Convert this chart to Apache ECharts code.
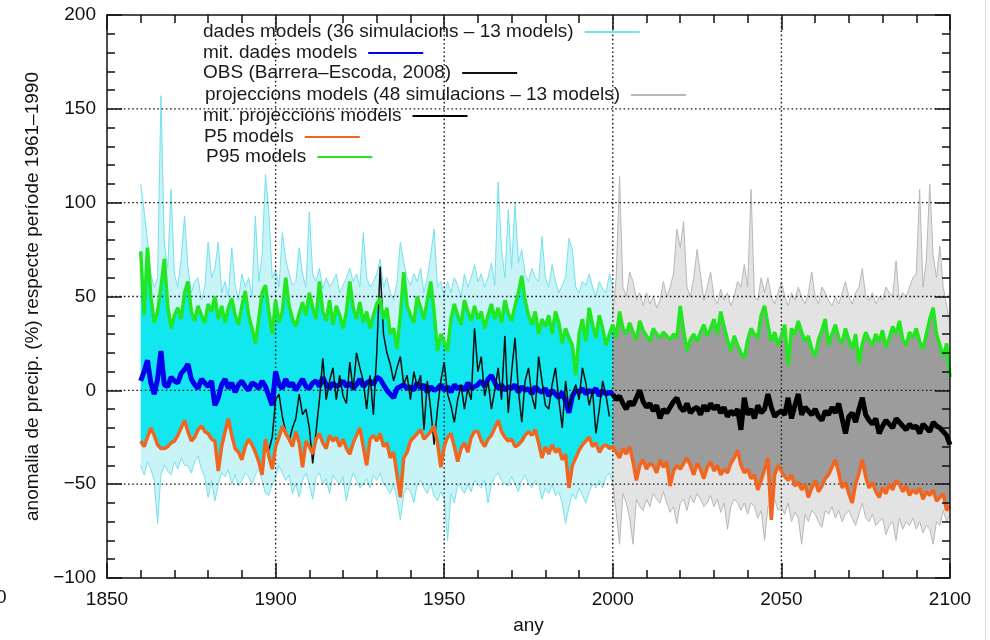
<!DOCTYPE html>
<html><head><meta charset="utf-8">
<script src="https://cdn.jsdelivr.net/npm/echarts@6/dist/echarts.min.js"></script>
<style>html,body{margin:0;padding:0;background:#fff}#c{width:990px;height:640px}</style>
</head><body><div id="c"></div>
<script>
// ---------- DATA ----------
const histStartYear = 1860;   // historical simulations 1860-2000
const projStartYear = 2000;   // projections 2000-2100
const obsStartYear  = 1898;   // observations 1898-1999
const xTickLabels = [1850, 1900, 1950, 2000, 2050, 2100];
const yTickLabels = [-100, -50, 0, 50, 100, 150, 200];

const legendNames = [
  'dades models (36 simulacions – 13 models)',
  'mit. dades models',
  'OBS (Barrera–Escoda, 2008)',
  'projeccions models (48 simulacions – 13 models)',
  'mit. projeccions models',
  'P5 models',
  'P95 models'
];

// upper / lower envelope of the 36 historical simulations
const histMax = [110,96,80,62,55,60,157,78,65,107, 62,55,70,93,66,52,58,60,48,55,
  79,60,65,79,52,58,50,76,56,48, 62,55,60,50,93,58,72,115,95,60,
  64,55,84,70,62,56,58,76,62,55, 95,62,58,65,54,60,55,58,62,52,
  56,60,65,58,62,55,84,60,55,58, 62,70,55,60,52,48,58,79,68,60,
  56,62,58,65,52,60,72,86,55,58, 50,58,52,60,56,50,62,55,60,67,
  58,62,55,60,68,56,111,75,60,96, 65,100,68,75,62,58,65,60,58,82,
  60,55,67,58,52,56,60,81,75,55, 52,58,56,62,55,50,58,54,52,62, 55];
const histMin = [-40,-45,-38,-42,-48,-71,-45,-40,-43,-45, -38,-42,-36,-40,-40,-44,-38,-35,-42,-46,
  -57,-48,-59,-50,-44,-46,-42,-50,-45,-51, -48,-44,-46,-50,-45,-42,-48,-55,-56,-50,
  -46,-40,-44,-48,-45,-55,-50,-57,-48,-44, -50,-58,-46,-44,-50,-47,-55,-45,-48,-50,
  -46,-59,-50,-44,-48,-52,-50,-47,-52,-45, -48,-44,-50,-52,-55,-50,-58,-69,-55,-52,
  -54,-60,-50,-48,-52,-55,-50,-56,-59,-54, -58,-80,-55,-60,-50,-52,-55,-50,-54,-48,
  -50,-52,-48,-60,-50,-46,-44,-48,-50,-51, -46,-50,-54,-48,-45,-50,-52,-48,-50,-58,
  -52,-55,-50,-56,-54,-60,-71,-62,-55,-58, -52,-56,-60,-54,-50,-52,-48,-52,-46,-44, -50];
// ensemble mean of historical simulations
const histMean = [5,10,16,4,-2,6,21,3,2,7, 5,4,9,11,14,6,3,1,6,4,
  2,5,-8,-4,3,6,1,4,-1,3, 5,2,0,4,3,1,5,2,-3,-8,
  10,3,1,6,2,4,0,3,6,2, 1,4,5,2,7,3,1,4,2,3,
  5,2,4,1,3,6,2,4,5,3, 7,6,3,0,-2,-4,1,2,3,1,
  2,0,4,1,3,-1,2,0,1,3, 0,2,-1,3,1,2,0,4,1,2,
  3,5,2,6,8,4,1,3,0,2, 1,3,-1,2,0,1,-2,2,0,-1,
  1,-3,0,-2,-4,-1,-6,-12,-3,0, -1,1,-2,0,-1,1,-3,0,-2,-1, -2];
// P5 / P95 of the historical simulations
const histP5 = [-27,-30,-25,-20,-24,-29,-31,-31,-30,-28, -27,-24,-20,-16,-22,-27,-25,-21,-19,-22,
  -23,-26,-27,-43,-30,-22,-15,-24,-31,-33, -37,-30,-26,-29,-33,-38,-45,-26,-35,-42,
  -30,-25,-19,-23,-26,-30,-22,-28,-41,-27, -30,-34,-26,-23,-28,-31,-24,-27,-25,-30,
  -26,-31,-34,-28,-24,-20,-30,-40,-26,-24, -27,-23,-30,-28,-36,-33,-45,-57,-36,-33,
  -27,-25,-23,-21,-26,-24,-22,-19,-28,-41, -30,-25,-23,-30,-38,-31,-28,-33,-25,-22,
  -22,-27,-30,-26,-24,-20,-16,-22,-25,-27, -26,-30,-29,-27,-24,-22,-24,-21,-28,-36,
  -30,-34,-29,-33,-31,-37,-34,-52,-40,-36, -32,-29,-27,-25,-30,-28,-33,-30,-29,-31, -30];
const histP95 = [74,40,76,50,36,42,55,70,45,33, 40,44,38,52,58,42,37,45,40,36,
  46,42,50,38,45,36,44,49,40,35, 45,53,40,33,25,38,52,56,42,30,
  48,36,42,60,45,38,34,41,47,40, 52,44,38,58,42,37,48,35,45,40,
  33,42,58,44,38,47,36,42,33,40, 46,49,38,44,30,33,22,40,63,45,
  40,36,50,44,38,48,58,42,21,30, 26,21,38,46,40,35,48,42,37,45,
  38,42,33,40,46,38,44,36,48,41, 37,45,52,61,48,40,35,42,30,38,
  34,40,30,42,36,25,33,28,24,8, 30,38,26,44,35,28,40,33,24,30, 35];
// observations (Barrera-Escoda, 2008)
const obsValues = [-32,-25,
  -5,-2,-14,-22,-27,-20,-15,-2,-13,-10, -20,-39,-22,-5,17,-5,5,12,-5,8,
  -3,-7,15,0,20,12,5,-10,8,-13, 20,66,30,20,14,5,12,18,3,8,
  -5,10,2,8,-21,5,-10,-29,-10,5, 15,-2,-8,-17,-5,3,-10,1,-5,33,
  10,18,-3,5,-10,0,12,-5,29,-12, 10,28,0,-17,5,12,-3,-10,18,5,
  -8,-10,3,12,-5,-20,5,-10,-2,3, -5,12,4,-8,0,-23,-10,5,-3,-14];
// envelope of the 48 projections
const projMax = [40,60,114,55,50,63,58,48,52,45, 52,46,50,44,48,58,50,55,62,86,
  76,90,55,50,60,75,62,48,55,63, 50,46,54,48,52,45,50,58,55,67,
  55,107,50,48,60,52,60,50,46,52, 58,50,45,52,48,55,50,46,52,63,
  50,46,55,52,48,45,50,46,52,58, 50,46,52,55,65,50,48,52,46,50,
  48,55,52,50,69,48,52,50,55,60, 62,107,55,70,110,72,60,77,55,45, 35];
const projMin = [-50,-65,-82,-55,-60,-68,-82,-58,-62,-64, -58,-62,-55,-58,-60,-54,-60,-65,-62,-71,
  -60,-58,-64,-56,-60,-55,-58,-62,-60,-56, -62,-58,-65,-60,-74,-62,-58,-60,-64,-60,
  -66,-60,-62,-68,-64,-80,-62,-60,-58,-64, -62,-66,-60,-70,-65,-68,-82,-66,-70,-64,
  -66,-70,-73,-64,-66,-62,-68,-64,-70,-66, -64,-68,-72,-66,-60,-68,-70,-66,-72,-70,
  -68,-77,-72,-70,-80,-68,-74,-70,-72,-68, -74,-70,-76,-72,-74,-82,-70,-72,-64,-70, -66];
const projMean = [-2,-5,-3,-7,-10,-6,-8,-4,0,-6, -9,-7,-11,-8,-15,-10,-12,-9,-6,-4,
  -9,-11,-7,-12,-10,-9,-13,-8,-11,-7, -10,-8,-12,-9,-14,-11,-13,-10,-21,-4,
  -13,-10,-15,-8,-12,-10,-2,-9,-14,-12, -11,-13,-4,-15,-8,-2,-13,-9,-11,-13,
  -10,-14,-16,-11,-13,-9,-12,-7,-15,-23, -14,-12,-17,-10,-4,-13,-16,-18,-15,-23,
  -19,-16,-18,-20,-15,-17,-19,-21,-18,-20, -19,-23,-18,-20,-22,-17,-19,-20,-22,-24, -29];
const projP5 = [-30,-33,-36,-31,-34,-30,-38,-48,-40,-37, -42,-39,-40,-44,-37,-41,-38,-51,-43,-40,
  -42,-39,-36,-40,-45,-39,-42,-47,-41,-38, -43,-40,-45,-42,-44,-39,-36,-32,-40,-44,
  -42,-47,-45,-53,-48,-42,-36,-69,-45,-40, -43,-46,-48,-45,-51,-49,-53,-50,-57,-52,
  -48,-54,-51,-47,-45,-41,-37,-44,-52,-49, -55,-60,-50,-44,-37,-46,-52,-49,-54,-57,
  -52,-55,-50,-53,-48,-50,-54,-51,-56,-53, -55,-52,-58,-54,-56,-53,-59,-57,-55,-64, -62];
const projP95 = [35,28,42,33,30,36,31,27,37,32, 29,26,33,30,28,31,29,27,30,28,
  45,32,21,27,30,26,31,35,29,33, 38,30,42,34,27,21,29,24,20,17,
  27,33,30,28,40,45,35,26,31,24, 29,35,13,33,30,37,31,26,29,22,
  18,27,32,38,24,30,35,28,25,33, 27,22,30,14,25,31,27,24,30,26,
  32,23,28,34,30,37,27,24,31,28, 33,26,22,30,38,44,30,24,18,25, 7];

// ---------- BUILD ----------
const pairs = (start, arr) => arr.map((v, i) => [start + i, v]);
const FONT = 'Liberation Sans, Arial, Helvetica, sans-serif';
const fmtY = v => String(v).replace('-', '\u2212');
const fmtX = v => String(v);

const xMin = xTickLabels[0], xMax = xTickLabels[xTickLabels.length - 1];
const yMin = yTickLabels[0], yMax = yTickLabels[yTickLabels.length - 1];

// filled band between two arrays, positioned through the cartesian scales
function band(name, start, lo, hi, fill) {
  return {
    name, type: 'custom', coordinateSystem: 'cartesian2d', z: 1, silent: true, clip: true,
    data: [[start, lo[0]]],
    renderItem: (params, api) => {
      const top = hi.map((v, i) => api.coord([start + i, v]));
      const bot = lo.map((v, i) => api.coord([start + i, v])).reverse();
      return {type: 'polygon', shape: {points: top.concat(bot)}, style: {fill, stroke: null}};
    }
  };
}
function line(name, start, arr, color, width, z) {
  return {name, type: 'line', data: pairs(start, arr), symbol: 'none', showSymbol: false,
    itemStyle: {color}, lineStyle: {color, width}, z, silent: true};
}

// dotted grid drawn in front of the filled bands (through the axis scales)
const gridSeries = {
  name: 'grid', type: 'custom', coordinateSystem: 'cartesian2d', z: 2, silent: true, clip: false,
  data: [[xMin, yMin]],
  renderItem: (params, api) => {
    const children = [];
    const st = () => ({stroke: '#1a1a1a', lineWidth: 1.4, lineDash: [1.6, 2.6], fill: null});
    xTickLabels.slice(1, -1).forEach(v => {
      const a = api.coord([v, yMin]), b = api.coord([v, yMax]);
      children.push({type: 'line', shape: {x1: a[0], y1: a[1], x2: b[0], y2: b[1]}, style: st()});
    });
    yTickLabels.slice(1, -1).forEach(v => {
      const a = api.coord([xMin, v]), b = api.coord([xMax, v]);
      children.push({type: 'line', shape: {x1: a[0], y1: a[1], x2: b[0], y2: b[1]}, style: st()});
    });
    return {type: 'group', children};
  }
};

const series = [
  band('cyanEnvelope', histStartYear, histMin, histMax, '#c8f4f7'),
  band('grayEnvelope', projStartYear, projMin, projMax, '#e3e3e3'),
  line('cyanMin', histStartYear, histMin, '#74e2ec', 1, 1),
  line(legendNames[0], histStartYear, histMax, '#74e2ec', 1, 1),
  line('grayMin', projStartYear, projMin, '#b8b8b8', 1, 1),
  line(legendNames[3], projStartYear, projMax, '#b8b8b8', 1, 1),
  band('cyanCore', histStartYear, histP5, histP95, '#12e6ee'),
  band('grayCore', projStartYear, projP5, projP95, '#9c9c9c'),
  gridSeries,
  line(legendNames[1], histStartYear, histMean, '#0000ee', 5, 3),
  line(legendNames[2], obsStartYear, obsValues, '#111111', 1.5, 3),
  line(legendNames[4], projStartYear, projMean, '#000000', 5, 3),
  line(legendNames[5], histStartYear, histP5.concat(projP5.slice(1)), '#f2651f', 3.5, 3),
  line(legendNames[6], histStartYear, histP95.concat(projP95.slice(1)), '#22e622', 3.5, 3)
];

const legendRows = [
  {top: 32, left: 203}, {top: 53, left: 203}, {top: 73, left: 203}, {top: 95, left: 205},
  {top: 116, left: 203}, {top: 137, left: 204}, {top: 157, left: 206}
];
const legends = legendNames.map((n, i) => ({
  data: [n], orient: 'vertical', align: 'right', left: legendRows[i].left, top: legendRows[i].top - 10,
  padding: 0, itemWidth: 55, itemHeight: 14, selectedMode: false,
  itemStyle: {opacity: 0, borderWidth: 0},
  textStyle: {fontFamily: FONT, fontSize: 19, lineHeight: 20, color: '#1a1a1a', padding: [0, 6, 0, 0]}
}));

const axisLine = {show: true, onZero: false, lineStyle: {color: '#111', width: 1.5}};
const tick = {inside: true, length: 15, lineStyle: {color: '#111', width: 1.5}};
const minor = {show: true, splitNumber: 5, length: 8, lineStyle: {color: '#111', width: 1.5}};

const option = {
  animation: false,
  backgroundColor: '#fff',
  grid: {left: 107, right: 40, top: 15, bottom: 58},
  legend: legends,
  xAxis: [
    {type: 'value', min: xMin, max: xMax, interval: 50, position: 'bottom', z: 4,
     axisLine, axisTick: tick, minorTick: minor,
     axisLabel: {fontFamily: FONT, fontSize: 19, color: '#111', margin: 12, formatter: fmtX},
     splitLine: {show: false},
     name: 'any', nameLocation: 'middle', nameGap: 38,
     nameTextStyle: {fontFamily: FONT, fontSize: 19, color: '#111'}},
    {type: 'value', min: xMin, max: xMax, interval: 50, position: 'top', z: 4,
     axisLine, axisTick: tick, minorTick: minor,
     axisLabel: {show: false}, splitLine: {show: false}}
  ],
  yAxis: [
    {type: 'value', min: yMin, max: yMax, interval: 50, position: 'left', z: 4,
     axisLine, axisTick: tick, minorTick: minor,
     axisLabel: {fontFamily: FONT, fontSize: 19, color: '#111', margin: 11, formatter: fmtY},
     splitLine: {show: false},
     name: 'anomalia de precip. (%) respecte període 1961–1990', nameLocation: 'middle', nameGap: 64,
     nameTextStyle: {fontFamily: FONT, fontSize: 19, color: '#111'}},
    {type: 'value', min: yMin, max: yMax, interval: 50, position: 'right', z: 4,
     axisLine, axisTick: tick, minorTick: minor,
     axisLabel: {show: false}, splitLine: {show: false}}
  ],
  graphic: [
    {type: 'text', z: 10, style: {x: -4, y: 598, text: '0', fill: '#111', font: '19px ' + FONT, verticalAlign: 'middle'}},
    {type: 'line', z: 10, shape: {x1: 985.5, y1: 0, x2: 985.5, y2: 640}, style: {stroke: '#dcdcdc', lineWidth: 1}}
  ],
  series
};
const chart = echarts.init(document.getElementById('c'), null, {renderer: 'canvas'});
chart.setOption(option);
</script></body></html>
